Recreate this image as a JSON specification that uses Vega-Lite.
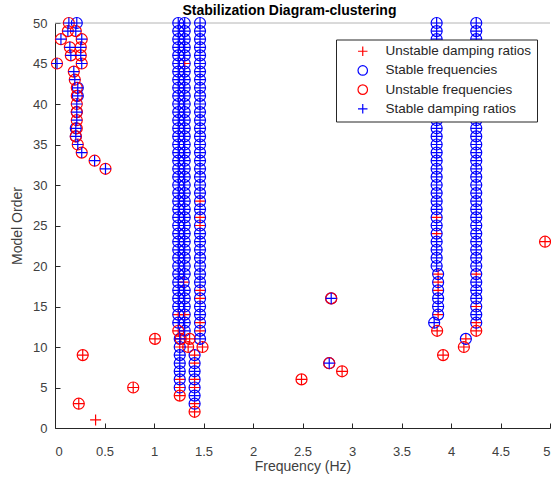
{
  "$schema": "https://vega.github.io/schema/vega-lite/v6.json",
  "width": 495,
  "height": 405,
  "autosize": {"type": "none"},
  "padding": {"left": 55, "top": 23, "right": 1, "bottom": 52},
  "background": "white",
  "title": {"text": "Stabilization Diagram-clustering", "font": "Liberation Sans", "fontSize": 14, "fontWeight": "bold", "color": "#000000", "anchor": "middle", "dx": -13, "offset": -17, "baseline": "bottom"},
  "config": {
    "view": {"stroke": null},
    "axis": {"grid": false, "domainColor": "#262626", "tickColor": "#262626", "tickSize": -5, "labelFont": "Liberation Sans", "labelFontSize": 13, "labelColor": "#404040", "titleFont": "Liberation Sans", "titleFontSize": 14, "titleFontWeight": "normal", "titleColor": "#404040"},
    "axisX": {"labelPadding": 22, "titlePadding": 1},
    "axisY": {"labelPadding": 13, "titlePadding": 8},
    "legend": {"title": null, "fillColor": "white", "strokeColor": "#262626", "padding": 5, "symbolOffset": 15, "labelOffset": 16, "rowPadding": 4.2, "labelFontSize": 13.5, "labelFont": "Liberation Sans", "labelColor": "#262626", "symbolSize": 90, "symbolStrokeWidth": 1.2}
  },
  "data": {"values": [
    {"f":0.14,"o":50,"c":"UF","d":"SD"},{"f":0.22,"o":50,"c":"SF","d":"SD"},
    {"f":0.13,"o":49,"c":"UF","d":"SD"},{"f":0.21,"o":49,"c":"UF","d":"SD"},
    {"f":0.06,"o":48,"c":"UF","d":"SD"},{"f":0.27,"o":48,"c":"UF","d":"SD"},
    {"f":0.15,"o":47,"c":"UF","d":"SD"},{"f":0.26,"o":47,"c":"UF","d":"SD"},
    {"f":0.16,"o":46,"c":"UF","d":"SD"},{"f":0.26,"o":46,"c":"UF","d":"SD"},
    {"f":0.02,"o":45,"c":"UF","d":"SD"},{"f":0.27,"o":45,"c":"UF","d":"SD"},
    {"f":0.19,"o":44,"c":"UF","d":"SD"},{"f":0.2,"o":43,"c":"UF","d":"SD"},
    {"f":0.23,"o":42,"c":"SF","d":"SD"},{"f":0.22,"o":42,"c":"UF"},
    {"f":0.23,"o":41,"c":"SF","d":"SD"},{"f":0.22,"o":41,"c":"UF"},
    {"f":0.22,"o":40,"c":"UF","d":"SD"},
    {"f":0.22,"o":39,"c":"SF","d":"SD"},{"f":0.22,"o":39,"c":"UF"},
    {"f":0.22,"o":38,"c":"UF","d":"SD"},
    {"f":0.21,"o":37,"c":"SF","d":"SD"},{"f":0.22,"o":37,"c":"UF"},
    {"f":0.21,"o":36,"c":"SF","d":"SD"},{"f":0.21,"o":36,"c":"UF"},
    {"f":0.23,"o":35,"c":"UF","d":"SD"},{"f":0.27,"o":34,"c":"UF","d":"SD"},
    {"f":0.4,"o":33,"c":"UF","d":"SD"},{"f":0.51,"o":32,"c":"UF","d":"SD"},
    {"f":4.95,"o":23,"c":"UF","d":"UD"},
    {"f":2.79,"o":16,"c":"SF","d":"SD"},{"f":2.79,"o":16,"c":"UF"},
    {"f":1.01,"o":11,"c":"UF","d":"UD"},{"f":4.15,"o":11,"c":"SF","d":"UD"},
    {"f":4.13,"o":10,"c":"UF","d":"UD"},{"f":0.28,"o":9,"c":"UF","d":"UD"},
    {"f":3.92,"o":9,"c":"UF","d":"UD"},
    {"f":2.77,"o":8,"c":"SF","d":"SD"},{"f":2.77,"o":8,"c":"UF"},
    {"f":2.9,"o":7,"c":"UF","d":"UD"},{"f":2.49,"o":6,"c":"UF","d":"UD"},
    {"f":0.79,"o":5,"c":"UF","d":"UD"},{"f":0.24,"o":3,"c":"UF","d":"UD"},
    {"f":0.41,"o":1,"d":"UD"},

    {"f":1.245,"o":50,"c":"SF","d":"SD"},{"f":1.245,"o":49,"c":"SF","d":"SD"},{"f":1.245,"o":48,"c":"SF","d":"SD"},{"f":1.245,"o":47,"c":"SF","d":"SD"},
    {"f":1.245,"o":46,"c":"SF","d":"SD"},{"f":1.245,"o":45,"c":"SF","d":"SD"},{"f":1.245,"o":44,"c":"SF","d":"SD"},{"f":1.245,"o":43,"c":"SF","d":"SD"},
    {"f":1.245,"o":42,"c":"SF","d":"SD"},{"f":1.245,"o":41,"c":"SF","d":"SD"},{"f":1.245,"o":40,"c":"SF","d":"SD"},{"f":1.245,"o":39,"c":"SF","d":"SD"},
    {"f":1.245,"o":38,"c":"SF","d":"SD"},{"f":1.245,"o":37,"c":"SF","d":"SD"},{"f":1.245,"o":36,"c":"SF","d":"SD"},{"f":1.245,"o":35,"c":"SF","d":"SD"},
    {"f":1.245,"o":34,"c":"SF","d":"SD"},{"f":1.245,"o":33,"c":"SF","d":"SD"},{"f":1.245,"o":32,"c":"SF","d":"SD"},{"f":1.245,"o":31,"c":"SF","d":"SD"},
    {"f":1.245,"o":30,"c":"SF","d":"SD"},{"f":1.245,"o":29,"c":"SF","d":"SD"},{"f":1.245,"o":28,"c":"SF","d":"SD"},{"f":1.245,"o":27,"c":"SF","d":"SD"},
    {"f":1.245,"o":26,"c":"SF","d":"SD"},{"f":1.245,"o":25,"c":"SF","d":"SD"},{"f":1.245,"o":24,"c":"SF","d":"SD"},{"f":1.245,"o":23,"c":"SF","d":"SD"},
    {"f":1.245,"o":22,"c":"SF","d":"SD"},{"f":1.245,"o":21,"c":"SF","d":"SD"},{"f":1.245,"o":20,"c":"SF","d":"SD"},{"f":1.245,"o":19,"c":"SF","d":"SD"},
    {"f":1.245,"o":18,"c":"SF","d":"SD"},{"f":1.245,"o":17,"c":"SF","d":"SD"},{"f":1.245,"o":16,"c":"SF","d":"SD"},{"f":1.245,"o":15,"c":"SF","d":"SD"},
    {"f":1.245,"o":14,"c":"SF","d":"UD"},{"f":1.245,"o":13,"c":"SF","d":"SD"},{"f":1.245,"o":12,"c":"UF","d":"UD"},
    {"f":1.26,"o":11,"c":"SF","d":"SD"},{"f":1.27,"o":11,"c":"UF","d":"UD"},{"f":1.26,"o":10,"c":"SF","d":"UD"},{"f":1.26,"o":9,"c":"SF","d":"SD"},
    {"f":1.26,"o":8,"c":"SF","d":"SD"},{"f":1.26,"o":7,"c":"SF","d":"SD"},{"f":1.26,"o":6,"c":"SF","d":"UD"},{"f":1.26,"o":5,"c":"SF","d":"UD"},
    {"f":1.26,"o":4,"c":"UF","d":"UD"},

    {"f":1.31,"o":50,"c":"SF","d":"SD"},{"f":1.31,"o":49,"c":"SF","d":"SD"},{"f":1.31,"o":48,"c":"SF","d":"SD"},{"f":1.31,"o":47,"c":"SF","d":"SD"},
    {"f":1.31,"o":46,"c":"SF","d":"SD"},{"f":1.31,"o":45,"c":"SF","d":"UD"},{"f":1.31,"o":44,"c":"SF","d":"SD"},{"f":1.31,"o":43,"c":"SF","d":"SD"},
    {"f":1.31,"o":42,"c":"SF","d":"SD"},{"f":1.31,"o":41,"c":"SF","d":"SD"},{"f":1.31,"o":40,"c":"SF","d":"SD"},{"f":1.31,"o":39,"c":"SF","d":"SD"},
    {"f":1.31,"o":38,"c":"SF","d":"SD"},{"f":1.31,"o":37,"c":"SF","d":"SD"},{"f":1.31,"o":36,"c":"SF","d":"SD"},{"f":1.31,"o":35,"c":"SF","d":"SD"},
    {"f":1.31,"o":34,"c":"SF","d":"SD"},{"f":1.31,"o":33,"c":"SF","d":"SD"},{"f":1.31,"o":32,"c":"SF","d":"SD"},{"f":1.31,"o":31,"c":"SF","d":"SD"},
    {"f":1.31,"o":30,"c":"SF","d":"SD"},{"f":1.31,"o":29,"c":"SF","d":"SD"},{"f":1.31,"o":28,"c":"SF","d":"SD"},{"f":1.31,"o":27,"c":"SF","d":"SD"},
    {"f":1.31,"o":26,"c":"SF","d":"SD"},{"f":1.31,"o":25,"c":"SF","d":"SD"},{"f":1.31,"o":24,"c":"SF","d":"SD"},{"f":1.31,"o":23,"c":"SF","d":"SD"},
    {"f":1.31,"o":22,"c":"SF","d":"SD"},{"f":1.31,"o":21,"c":"SF","d":"SD"},{"f":1.31,"o":20,"c":"SF","d":"SD"},{"f":1.31,"o":19,"c":"SF","d":"SD"},
    {"f":1.30,"o":18,"c":"SF","d":"UD"},{"f":1.31,"o":17,"c":"SF","d":"SD"},{"f":1.31,"o":16,"c":"SF","d":"SD"},{"f":1.31,"o":15,"c":"SF","d":"SD"},
    {"f":1.31,"o":14,"c":"SF","d":"UD"},{"f":1.31,"o":13,"c":"SF","d":"SD"},{"f":1.31,"o":12,"c":"SF","d":"SD"},
    {"f":1.36,"o":11,"c":"UF","d":"UD"},{"f":1.345,"o":10,"c":"UF","d":"UD"},

    {"f":1.465,"o":50,"c":"SF","d":"SD"},{"f":1.465,"o":49,"c":"SF","d":"SD"},{"f":1.465,"o":48,"c":"SF","d":"SD"},{"f":1.465,"o":47,"c":"SF","d":"SD"},
    {"f":1.465,"o":46,"c":"SF","d":"SD"},{"f":1.465,"o":45,"c":"SF","d":"SD"},{"f":1.465,"o":44,"c":"SF","d":"SD"},{"f":1.465,"o":43,"c":"SF","d":"SD"},
    {"f":1.465,"o":42,"c":"SF","d":"SD"},{"f":1.465,"o":41,"c":"SF","d":"SD"},{"f":1.465,"o":40,"c":"SF","d":"SD"},{"f":1.465,"o":39,"c":"SF","d":"SD"},
    {"f":1.465,"o":38,"c":"SF","d":"SD"},{"f":1.465,"o":37,"c":"SF","d":"SD"},{"f":1.465,"o":36,"c":"SF","d":"SD"},{"f":1.465,"o":35,"c":"SF","d":"SD"},
    {"f":1.465,"o":34,"c":"SF","d":"SD"},{"f":1.465,"o":33,"c":"SF","d":"SD"},{"f":1.465,"o":32,"c":"SF","d":"SD"},{"f":1.465,"o":31,"c":"SF","d":"SD"},
    {"f":1.465,"o":30,"c":"SF","d":"SD"},{"f":1.465,"o":29,"c":"SF","d":"SD"},{"f":1.465,"o":28,"c":"SF","d":"UD"},{"f":1.465,"o":27,"c":"SF","d":"SD"},
    {"f":1.465,"o":26,"c":"SF","d":"UD"},{"f":1.465,"o":25,"c":"SF","d":"UD"},{"f":1.465,"o":24,"c":"SF","d":"SD"},{"f":1.465,"o":23,"c":"SF","d":"SD"},
    {"f":1.465,"o":22,"c":"SF","d":"SD"},{"f":1.465,"o":21,"c":"SF","d":"SD"},{"f":1.465,"o":20,"c":"SF","d":"SD"},{"f":1.465,"o":19,"c":"SF","d":"SD"},
    {"f":1.465,"o":18,"c":"SF","d":"SD"},{"f":1.465,"o":17,"c":"SF","d":"UD"},{"f":1.465,"o":16,"c":"SF","d":"UD"},{"f":1.465,"o":15,"c":"SF","d":"SD"},
    {"f":1.465,"o":14,"c":"SF","d":"SD"},{"f":1.465,"o":13,"c":"SF","d":"UD"},{"f":1.465,"o":12,"c":"SF","d":"UD"},{"f":1.465,"o":11,"c":"SF","d":"SD"},
    {"f":1.49,"o":10,"c":"UF","d":"UD"},

    {"f":1.41,"o":9,"c":"SF","d":"UD"},{"f":1.41,"o":8,"c":"SF","d":"UD"},{"f":1.41,"o":7,"c":"SF","d":"SD"},{"f":1.41,"o":6,"c":"SF","d":"UD"},
    {"f":1.41,"o":5,"c":"SF","d":"UD"},{"f":1.41,"o":4,"c":"SF","d":"SD"},{"f":1.41,"o":3,"c":"SF","d":"UD"},{"f":1.41,"o":2,"c":"UF","d":"UD"},

    {"f":3.855,"o":50,"c":"SF","d":"SD"},{"f":3.855,"o":49,"c":"SF","d":"SD"},{"f":3.855,"o":48,"c":"SF","d":"SD"},{"f":3.855,"o":47,"c":"SF","d":"SD"},
    {"f":3.855,"o":46,"c":"SF","d":"SD"},{"f":3.855,"o":45,"c":"SF","d":"SD"},{"f":3.855,"o":44,"c":"SF","d":"SD"},{"f":3.855,"o":43,"c":"SF","d":"SD"},
    {"f":3.855,"o":42,"c":"SF","d":"SD"},{"f":3.855,"o":41,"c":"SF","d":"SD"},{"f":3.855,"o":40,"c":"SF","d":"SD"},{"f":3.855,"o":39,"c":"SF","d":"SD"},
    {"f":3.855,"o":38,"c":"SF","d":"SD"},{"f":3.855,"o":37,"c":"SF","d":"SD"},{"f":3.855,"o":36,"c":"SF","d":"SD"},{"f":3.855,"o":35,"c":"SF","d":"SD"},
    {"f":3.855,"o":34,"c":"SF","d":"SD"},{"f":3.855,"o":33,"c":"SF","d":"SD"},{"f":3.855,"o":32,"c":"SF","d":"SD"},{"f":3.855,"o":31,"c":"SF","d":"SD"},
    {"f":3.855,"o":30,"c":"SF","d":"SD"},{"f":3.855,"o":29,"c":"SF","d":"SD"},{"f":3.855,"o":28,"c":"SF","d":"SD"},{"f":3.855,"o":27,"c":"SF","d":"SD"},
    {"f":3.855,"o":26,"c":"SF","d":"UD"},{"f":3.855,"o":25,"c":"SF","d":"SD"},{"f":3.855,"o":24,"c":"SF","d":"UD"},{"f":3.855,"o":23,"c":"SF","d":"SD"},
    {"f":3.855,"o":22,"c":"SF","d":"SD"},{"f":3.855,"o":21,"c":"SF","d":"SD"},{"f":3.855,"o":20,"c":"SF","d":"SD"},
    {"f":3.87,"o":19,"c":"SF","d":"UD"},{"f":3.87,"o":18,"c":"SF","d":"UD"},{"f":3.87,"o":17,"c":"SF","d":"UD"},{"f":3.87,"o":16,"c":"SF","d":"SD"},
    {"f":3.87,"o":15,"c":"SF","d":"SD"},{"f":3.87,"o":14,"c":"SF","d":"UD"},{"f":3.83,"o":13,"c":"SF","d":"SD"},{"f":3.86,"o":12,"c":"UF","d":"UD"},

    {"f":4.255,"o":50,"c":"SF","d":"SD"},{"f":4.255,"o":49,"c":"SF","d":"SD"},{"f":4.255,"o":48,"c":"SF","d":"SD"},{"f":4.255,"o":47,"c":"SF","d":"SD"},
    {"f":4.255,"o":46,"c":"SF","d":"SD"},{"f":4.255,"o":45,"c":"SF","d":"SD"},{"f":4.255,"o":44,"c":"SF","d":"SD"},{"f":4.255,"o":43,"c":"SF","d":"SD"},
    {"f":4.255,"o":42,"c":"SF","d":"SD"},{"f":4.255,"o":41,"c":"SF","d":"SD"},{"f":4.255,"o":40,"c":"SF","d":"SD"},{"f":4.255,"o":39,"c":"SF","d":"SD"},
    {"f":4.255,"o":38,"c":"SF","d":"SD"},{"f":4.255,"o":37,"c":"SF","d":"SD"},{"f":4.255,"o":36,"c":"SF","d":"SD"},{"f":4.255,"o":35,"c":"SF","d":"SD"},
    {"f":4.255,"o":34,"c":"SF","d":"SD"},{"f":4.255,"o":33,"c":"SF","d":"SD"},{"f":4.255,"o":32,"c":"SF","d":"SD"},{"f":4.255,"o":31,"c":"SF","d":"SD"},
    {"f":4.255,"o":30,"c":"SF","d":"SD"},{"f":4.255,"o":29,"c":"SF","d":"SD"},{"f":4.255,"o":28,"c":"SF","d":"SD"},{"f":4.255,"o":27,"c":"SF","d":"SD"},
    {"f":4.255,"o":26,"c":"SF","d":"SD"},{"f":4.255,"o":25,"c":"SF","d":"SD"},{"f":4.255,"o":24,"c":"SF","d":"SD"},{"f":4.255,"o":23,"c":"SF","d":"SD"},
    {"f":4.255,"o":22,"c":"SF","d":"SD"},{"f":4.255,"o":21,"c":"SF","d":"SD"},{"f":4.255,"o":20,"c":"SF","d":"SD"},{"f":4.255,"o":19,"c":"SF","d":"UD"},
    {"f":4.255,"o":18,"c":"SF","d":"SD"},{"f":4.255,"o":17,"c":"SF","d":"SD"},{"f":4.255,"o":16,"c":"SF","d":"SD"},{"f":4.255,"o":15,"c":"SF","d":"UD"},
    {"f":4.255,"o":14,"c":"SF","d":"SD"},{"f":4.255,"o":13,"c":"SF","d":"UD"},{"f":4.255,"o":12,"c":"UF","d":"UD"}
  ]},
  "layer": [
    {
      "data": {"values": [{"top": 50}]},
      "mark": {"type": "rule", "color": "#b4b4b4", "strokeWidth": 1},
      "encoding": {"y": {"field": "top", "type": "quantitative", "axis": {"title": "Model Order"}}}
    },
    {
      "transform": [{"filter": {"field": "d", "equal": "UD"}}],
      "mark": {"type": "point", "filled": false, "size": 121, "strokeWidth": 1.2, "opacity": 1},
      "encoding": {
        "x": {"field": "f", "type": "quantitative", "scale": {"domain": [0, 5], "nice": false, "zero": false}, "axis": {"title": "Frequency (Hz)", "values": [0, 0.5, 1, 1.5, 2, 2.5, 3, 3.5, 4, 4.5, 5], "format": "~g"}},
        "y": {"field": "o", "type": "quantitative", "scale": {"domain": [0, 50], "nice": false}, "axis": {"title": "Model Order", "values": [0, 5, 10, 15, 20, 25, 30, 35, 40, 45, 50]}},
        "color": {"field": "d", "type": "nominal", "scale": {"domain": ["UD", "SF", "UF", "SD"], "range": ["#ff0000", "#0000ff", "#ff0000", "#0000ff"]}, "legend": {"orient": "none", "legendX": 281, "legendY": 16.5, "labelExpr": "datum.value == 'UD' ? 'Unstable damping ratios' : datum.value == 'SF' ? 'Stable frequencies' : datum.value == 'UF' ? 'Unstable frequencies' : 'Stable damping ratios'"}},
        "shape": {"field": "d", "type": "nominal", "scale": {"domain": ["UD", "SF", "UF", "SD"], "range": ["M-1,0H1M0,-1V1", "circle", "circle", "M-1,0H1M0,-1V1"]}, "legend": {"orient": "none", "legendX": 281, "legendY": 16.5, "labelExpr": "datum.value == 'UD' ? 'Unstable damping ratios' : datum.value == 'SF' ? 'Stable frequencies' : datum.value == 'UF' ? 'Unstable frequencies' : 'Stable damping ratios'"}}
      }
    },
    {
      "transform": [{"filter": {"field": "c", "oneOf": ["SF", "UF"]}}],
      "mark": {"type": "point", "filled": false, "size": 121, "strokeWidth": 1.2, "opacity": 1},
      "encoding": {
        "x": {"field": "f", "type": "quantitative"},
        "y": {"field": "o", "type": "quantitative"},
        "color": {"field": "c", "type": "nominal"},
        "shape": {"field": "c", "type": "nominal"},
        "order": {"field": "c", "sort": "ascending"}
      }
    },
    {
      "transform": [{"filter": {"field": "d", "equal": "SD"}}],
      "mark": {"type": "point", "filled": false, "size": 121, "strokeWidth": 1.2, "opacity": 1},
      "encoding": {
        "x": {"field": "f", "type": "quantitative"},
        "y": {"field": "o", "type": "quantitative"},
        "color": {"field": "d", "type": "nominal"},
        "shape": {"field": "d", "type": "nominal"}
      }
    }
  ]
}
